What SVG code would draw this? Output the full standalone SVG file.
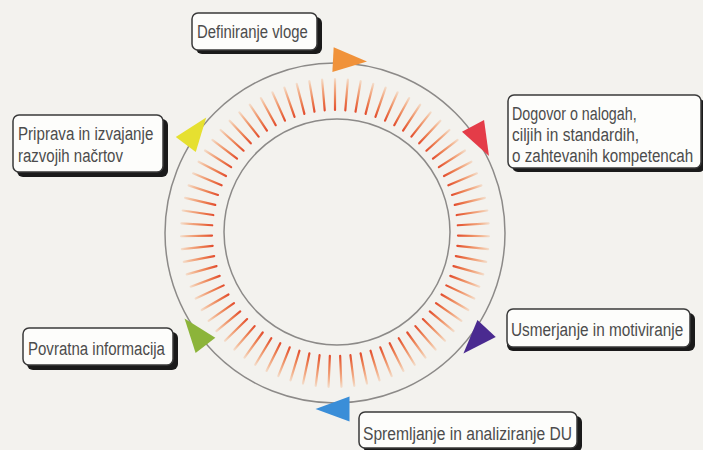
<svg xmlns="http://www.w3.org/2000/svg" xmlns:xlink="http://www.w3.org/1999/xlink" width="703" height="450" viewBox="0 0 703 450">
<style>
.ring{fill:none;stroke:#8c8a88;stroke-width:1.5}
.tick{stroke:url(#tg);stroke-width:2.2;stroke-linecap:round}
.sh{fill:#1a1a1a}
.bx{fill:#fdfdfb;stroke:#3a3a3a;stroke-width:1.5}
.t{font-family:"Liberation Sans",Arial,sans-serif;font-size:19px;fill:#4c4c4c}
</style>
<defs>
<radialGradient id="tg" gradientUnits="userSpaceOnUse" cx="335" cy="233" r="156">
<stop offset="0.78" stop-color="#e24a2c"/>
<stop offset="0.86" stop-color="#ec7f52"/>
<stop offset="0.95" stop-color="#f4bc9a"/>
<stop offset="1" stop-color="#f3e4d6"/>
</radialGradient>
<line id="tk" class="tick" x1="335" y1="110" x2="335" y2="79"/>
<path id="tri" d="M17,0 L-17,-12.5 L-17,12.5 Z"/>
</defs>
<rect width="703" height="450" fill="#f3f2ee"/>
<g id="connectors">
<circle class="ring" cx="335" cy="233" r="170"/>
<circle class="ring" cx="337" cy="232" r="113"/>
<g id="ticks">
<use xlink:href="#tk" transform="rotate(0 335 233)"/><use xlink:href="#tk" transform="rotate(4.8 335 233)"/><use xlink:href="#tk" transform="rotate(9.6 335 233)"/><use xlink:href="#tk" transform="rotate(14.4 335 233)"/><use xlink:href="#tk" transform="rotate(19.2 335 233)"/>
<use xlink:href="#tk" transform="rotate(24 335 233)"/><use xlink:href="#tk" transform="rotate(28.8 335 233)"/><use xlink:href="#tk" transform="rotate(33.6 335 233)"/><use xlink:href="#tk" transform="rotate(38.4 335 233)"/><use xlink:href="#tk" transform="rotate(43.2 335 233)"/>
<use xlink:href="#tk" transform="rotate(48 335 233)"/><use xlink:href="#tk" transform="rotate(52.8 335 233)"/><use xlink:href="#tk" transform="rotate(57.6 335 233)"/><use xlink:href="#tk" transform="rotate(62.4 335 233)"/><use xlink:href="#tk" transform="rotate(67.2 335 233)"/>
<use xlink:href="#tk" transform="rotate(72 335 233)"/><use xlink:href="#tk" transform="rotate(76.8 335 233)"/><use xlink:href="#tk" transform="rotate(81.6 335 233)"/><use xlink:href="#tk" transform="rotate(86.4 335 233)"/><use xlink:href="#tk" transform="rotate(91.2 335 233)"/>
<use xlink:href="#tk" transform="rotate(96 335 233)"/><use xlink:href="#tk" transform="rotate(100.8 335 233)"/><use xlink:href="#tk" transform="rotate(105.6 335 233)"/><use xlink:href="#tk" transform="rotate(110.4 335 233)"/><use xlink:href="#tk" transform="rotate(115.2 335 233)"/>
<use xlink:href="#tk" transform="rotate(120 335 233)"/><use xlink:href="#tk" transform="rotate(124.8 335 233)"/><use xlink:href="#tk" transform="rotate(129.6 335 233)"/><use xlink:href="#tk" transform="rotate(134.4 335 233)"/><use xlink:href="#tk" transform="rotate(139.2 335 233)"/>
<use xlink:href="#tk" transform="rotate(144 335 233)"/><use xlink:href="#tk" transform="rotate(148.8 335 233)"/><use xlink:href="#tk" transform="rotate(153.6 335 233)"/><use xlink:href="#tk" transform="rotate(158.4 335 233)"/><use xlink:href="#tk" transform="rotate(163.2 335 233)"/>
<use xlink:href="#tk" transform="rotate(168 335 233)"/><use xlink:href="#tk" transform="rotate(172.8 335 233)"/><use xlink:href="#tk" transform="rotate(177.6 335 233)"/><use xlink:href="#tk" transform="rotate(182.4 335 233)"/><use xlink:href="#tk" transform="rotate(187.2 335 233)"/>
<use xlink:href="#tk" transform="rotate(192 335 233)"/><use xlink:href="#tk" transform="rotate(196.8 335 233)"/><use xlink:href="#tk" transform="rotate(201.6 335 233)"/><use xlink:href="#tk" transform="rotate(206.4 335 233)"/><use xlink:href="#tk" transform="rotate(211.2 335 233)"/>
<use xlink:href="#tk" transform="rotate(216 335 233)"/><use xlink:href="#tk" transform="rotate(220.8 335 233)"/><use xlink:href="#tk" transform="rotate(225.6 335 233)"/><use xlink:href="#tk" transform="rotate(230.4 335 233)"/><use xlink:href="#tk" transform="rotate(235.2 335 233)"/>
<use xlink:href="#tk" transform="rotate(240 335 233)"/><use xlink:href="#tk" transform="rotate(244.8 335 233)"/><use xlink:href="#tk" transform="rotate(249.6 335 233)"/><use xlink:href="#tk" transform="rotate(254.4 335 233)"/><use xlink:href="#tk" transform="rotate(259.2 335 233)"/>
<use xlink:href="#tk" transform="rotate(264 335 233)"/><use xlink:href="#tk" transform="rotate(268.8 335 233)"/><use xlink:href="#tk" transform="rotate(273.6 335 233)"/><use xlink:href="#tk" transform="rotate(278.4 335 233)"/><use xlink:href="#tk" transform="rotate(283.2 335 233)"/>
<use xlink:href="#tk" transform="rotate(288 335 233)"/><use xlink:href="#tk" transform="rotate(292.8 335 233)"/><use xlink:href="#tk" transform="rotate(297.6 335 233)"/><use xlink:href="#tk" transform="rotate(302.4 335 233)"/><use xlink:href="#tk" transform="rotate(307.2 335 233)"/>
<use xlink:href="#tk" transform="rotate(312 335 233)"/><use xlink:href="#tk" transform="rotate(316.8 335 233)"/><use xlink:href="#tk" transform="rotate(321.6 335 233)"/><use xlink:href="#tk" transform="rotate(326.4 335 233)"/><use xlink:href="#tk" transform="rotate(331.2 335 233)"/>
<use xlink:href="#tk" transform="rotate(336 335 233)"/><use xlink:href="#tk" transform="rotate(340.8 335 233)"/><use xlink:href="#tk" transform="rotate(345.6 335 233)"/><use xlink:href="#tk" transform="rotate(350.4 335 233)"/><use xlink:href="#tk" transform="rotate(355.2 335 233)"/>
</g>
<use xlink:href="#tri" fill="#f0923a" transform="translate(350,60.5) rotate(3)"/>
<use xlink:href="#tri" fill="#e43c48" transform="translate(481,141) rotate(62)"/>
<use xlink:href="#tri" fill="#4a2a90" transform="translate(475,341) rotate(133)"/>
<use xlink:href="#tri" fill="#3a8ed8" transform="translate(332.5,409) rotate(180)"/>
<use xlink:href="#tri" fill="#8cb43a" transform="translate(195,332) rotate(232)"/>
<use xlink:href="#tri" fill="#e6e030" transform="translate(196,131) rotate(-53)"/>
</g>
<g id="n1">
<rect class="sh" x="196" y="17" width="126" height="37" rx="6"/>
<rect class="bx" x="192" y="13" width="125" height="37" rx="6"/>
<text class="t" transform="translate(197,38) scale(0.82,1)" textLength="135" lengthAdjust="spacingAndGlyphs">Definiranje vloge</text>
</g>
<g id="n2">
<rect class="sh" x="512" y="99" width="193" height="73" rx="6"/>
<rect class="bx" x="508" y="95" width="193" height="73" rx="6"/>
<text class="t" transform="translate(512,120) scale(0.82,1)" textLength="152" lengthAdjust="spacingAndGlyphs">Dogovor o nalogah,</text>
<text class="t" transform="translate(512,141) scale(0.82,1)" textLength="155" lengthAdjust="spacingAndGlyphs">ciljih in standardih,</text>
<text class="t" transform="translate(512,162) scale(0.82,1)" textLength="221" lengthAdjust="spacingAndGlyphs">o zahtevanih kompetencah</text>
</g>
<g id="n3">
<rect class="sh" x="507" y="313" width="188" height="38" rx="6"/>
<rect class="bx" x="507" y="309" width="183" height="38" rx="6"/>
<text class="t" transform="translate(511,336) scale(0.82,1)" textLength="210" lengthAdjust="spacingAndGlyphs">Usmerjanje in motiviranje</text>
</g>
<g id="n4">
<rect class="sh" x="363" y="416" width="219" height="36" rx="6"/>
<rect class="bx" x="359" y="412" width="218" height="36" rx="6"/>
<text class="t" transform="translate(363,440) scale(0.82,1)" textLength="255" lengthAdjust="spacingAndGlyphs">Spremljanje in analiziranje DU</text>
</g>
<g id="n5">
<rect class="sh" x="27" y="332" width="151" height="38" rx="6"/>
<rect class="bx" x="23" y="328" width="150" height="37" rx="6"/>
<text class="t" transform="translate(28,355) scale(0.82,1)" textLength="167" lengthAdjust="spacingAndGlyphs">Povratna informacija</text>
</g>
<g id="n6">
<rect class="sh" x="17" y="119" width="151" height="58" rx="6"/>
<rect class="bx" x="13" y="115" width="150" height="57" rx="6"/>
<text class="t" transform="translate(18,140) scale(0.82,1)" textLength="165" lengthAdjust="spacingAndGlyphs">Priprava in izvajanje</text>
<text class="t" transform="translate(18,162) scale(0.82,1)" textLength="128" lengthAdjust="spacingAndGlyphs">razvojih načrtov</text>
</g>
</svg>
